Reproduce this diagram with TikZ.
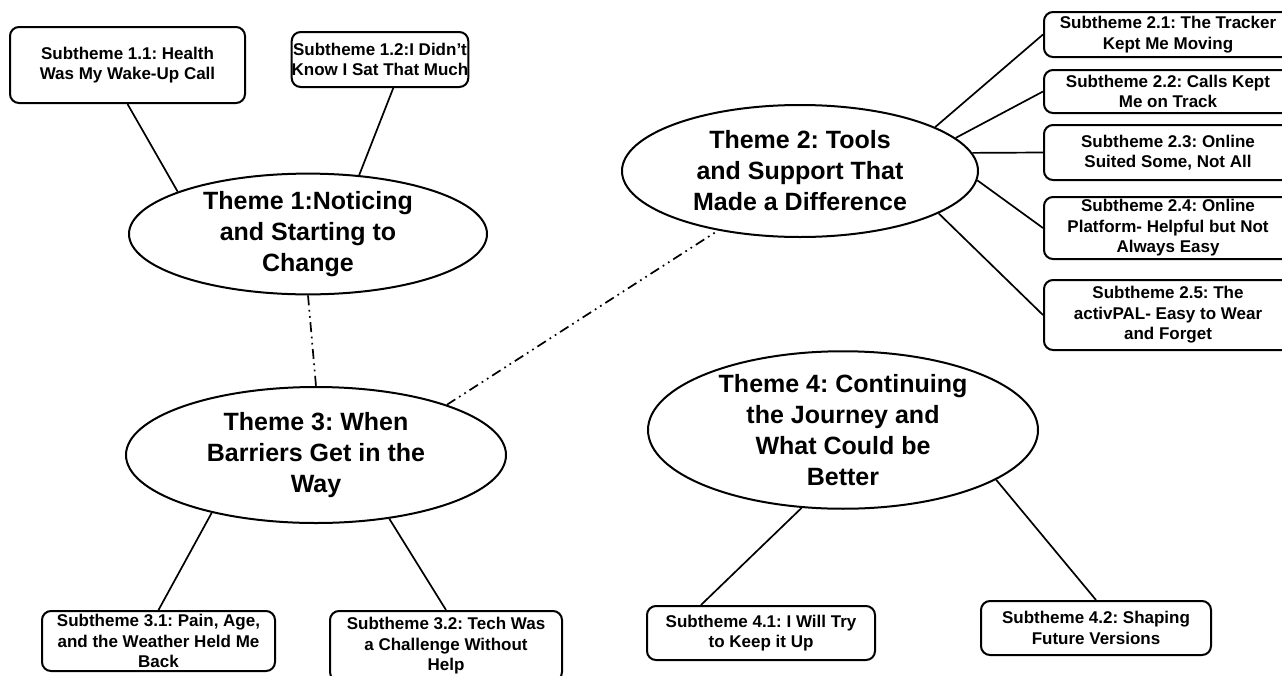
\documentclass[tikz,border=0pt]{standalone}
\usepackage{fontspec}
\setmainfont{Liberation Sans}
\usepackage{tikz}
\usetikzlibrary{
  shapes.geometric
}
\tikzset{>=stealth}
\tikzset{
  theme/.style={ellipse, draw, line width=2pt, inner sep=0pt, align=center,
    font=\fontsize{25}{31}\selectfont\bfseries},
  subtheme/.style={rectangle, rounded corners=9pt, draw, line width=2pt, inner sep=0pt,
    align=center, font=\fontsize{17}{20.5}\selectfont\bfseries},
  link/.style={line width=1.7pt},
  crosslink/.style={line width=1.7pt, dash pattern=on 10pt off 4.5pt on 1.7pt off 4.5pt on 1.7pt off 4.5pt}
}
\frenchspacing

\begin{document}
\begin{tikzpicture}[x=1pt,y=-1pt]
	\useasboundingbox (0,0) rectangle (1282,675);
	\node[theme, minimum width=358, minimum height=112] (T1) at (308,234) {Theme 1:Noticing\\and Starting to\\Change};
	\node[theme, minimum width=356, minimum height=132] (T2) at (800,171) {Theme 2: Tools\\and Support That\\Made a Difference};
	\node[theme, minimum width=380, minimum height=136] (T3) at (316,455) {Theme 3: When\\Barriers Get in the\\Way};
	\node[theme, minimum width=390, minimum height=156] (T4) at (843,430) {Theme 4: Continuing\\the Journey and\\What Could be\\Better};
	\node[subtheme, minimum width=235, minimum height=76] (S11) at (127.5,65) {Subtheme 1.1: Health\\Was My Wake-Up Call};
	\node[subtheme, minimum width=176, minimum height=55] (S12) at (380,59.5) {Subtheme 1.2:I Didn’t\\Know I Sat That Much};
	\node[subtheme, minimum width=248, minimum height=45] (S21) at (1168,34.5) {Subtheme 2.1: The Tracker\\Kept Me Moving};
	\node[subtheme, minimum width=248, minimum height=43] (S22) at (1168,91.5) {Subtheme 2.2: Calls Kept\\Me on Track};
	\node[subtheme, minimum width=248, minimum height=55] (S23) at (1168,152.5) {Subtheme 2.3: Online\\Suited Some, Not All};
	\node[subtheme, minimum width=248, minimum height=62] (S24) at (1168,228) {Subtheme 2.4: Online\\Platform- Helpful but Not\\Always Easy};
	\node[subtheme, minimum width=248, minimum height=70] (S25) at (1168,315) {Subtheme 2.5: The\\activPAL- Easy to Wear\\and Forget};
	\node[subtheme, minimum width=233, minimum height=60] (S31) at (158.5,641) {Subtheme 3.1: Pain, Age,\\and the Weather Held Me\\Back};
	\node[subtheme, minimum width=232, minimum height=70] (S32) at (446,646) {Subtheme 3.2: Tech Was\\a Challenge Without\\Help};
	\node[subtheme, minimum width=228, minimum height=54] (S41) at (761,633) {Subtheme 4.1: I Will Try\\to Keep it Up};
	\node[subtheme, minimum width=230, minimum height=54] (S42) at (1096,628) {Subtheme 4.2: Shaping\\Future Versions};
	\draw[link] (T1.162) -- (S11.south);
	\draw[link] (T1.49) -- (S12.-65);
	\draw[link] (T2.18) -- (S21.west);
	\draw[link] (T2.12) -- (S22.west);
	\draw[link] (T2.6) -- (S23.west);
	\draw[link] (T2.-3) -- (S24.west);
	\draw[link] (T2.-17) -- (S25.west);
	\draw[link] (T3.209) -- (S31.north);
	\draw[link] (T3.-41) -- (S32.north);
	\draw[link] (T4.242) -- (S41.155);
	\draw[link] (T4.-18) -- (S42.north);
	\draw[crosslink] (T1.south) -- (T3.north);
	\draw[crosslink] (T3.21) -- (T2.216);
\end{tikzpicture}
\end{document}
